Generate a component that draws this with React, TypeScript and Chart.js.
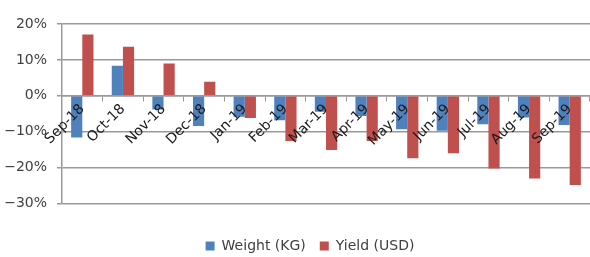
import React, { useEffect, useRef } from "react";
import { Chart, registerables } from "chart.js";

Chart.register(...registerables);

const categories = ["Sep-18", "Oct-18", "Nov-18", "Dec-18", "Jan-19", "Feb-19", "Mar-19", "Apr-19", "May-19", "Jun-19", "Jul-19", "Aug-19", "Sep-19"];
const weightKg = [-11.6, 8.4, -3.8, -8.4, -5.8, -6.8, -4.4, -5.6, -9.3, -9.7, -7.9, -6.0, -8.1];
const yieldUsd = [17.1, 13.7, 9.0, 3.9, -6.2, -12.6, -15.1, -12.6, -17.4, -16.0, -20.2, -23.0, -24.8];
const yMin = -30;
const yMax = 20;
const yStep = 10;

const FONT = "'DejaVu Sans', sans-serif";

const legendShift = {
  id: "legendShift",
  afterLayout(chart: any) {
    if (chart.legend) {
      chart.legend.left += 15;
      chart.legend.right += 15;
    }
  },
};

export default function App() {
  const ref = useRef<HTMLCanvasElement | null>(null);
  useEffect(() => {
    if (!ref.current) return;
    const chart = new Chart(ref.current, {
      type: "bar",
      data: {
        labels: categories,
        datasets: [
          { label: "Weight (KG)", data: weightKg, backgroundColor: "#4F81BD", categoryPercentage: 0.55, barPercentage: 1 },
          { label: "Yield (USD)", data: yieldUsd, backgroundColor: "#C0504D", categoryPercentage: 0.55, barPercentage: 1 },
        ],
      },
      plugins: [legendShift],
      options: {
        animation: false,
        responsive: true,
        maintainAspectRatio: false,
        layout: { padding: { top: 24, right: 0, bottom: -6, left: 0 } },
        plugins: {
          tooltip: { enabled: false },
          legend: {
            position: "bottom",
            title: { display: true, text: "", padding: { top: 7, bottom: 0 } },
            labels: {
              boxWidth: 9,
              boxHeight: 9,
              padding: 14,
              color: "#404040",
              font: { family: FONT, size: 14 },
            },
          },
        },
        scales: {
          x: {
            position: { y: 0 } as any,
            grid: { drawOnChartArea: false, drawTicks: true, tickLength: 5, color: "#999999", offset: true },
            border: { display: true, color: "#999999", width: 1.5 },
            ticks: { z: 1, minRotation: 45, maxRotation: 45, color: "#1a1a1a", padding: 0, font: { family: FONT, size: 14 } },
          },
          y: {
            min: yMin,
            max: yMax,
            afterFit: (s: any) => { s.width = 62; },
            ticks: {
              stepSize: yStep,
              color: "#404040",
              padding: 10,
              font: { family: FONT, size: 14 },
              callback: (v: any) => (Number(v) < 0 ? "\u2212" + Math.abs(Number(v)) : String(v)) + "%",
            },
            grid: { color: "#999999", lineWidth: 1.5, tickLength: 5 },
            border: { display: true, color: "#999999", width: 1.5 },
          },
        },
      },
    });
    return () => chart.destroy();
  }, []);
  return (
    <div style={{ position: "fixed", left: 0, top: 0, width: 590, height: 257, background: "#fff" }}>
      <canvas ref={ref} />
    </div>
  );
}
